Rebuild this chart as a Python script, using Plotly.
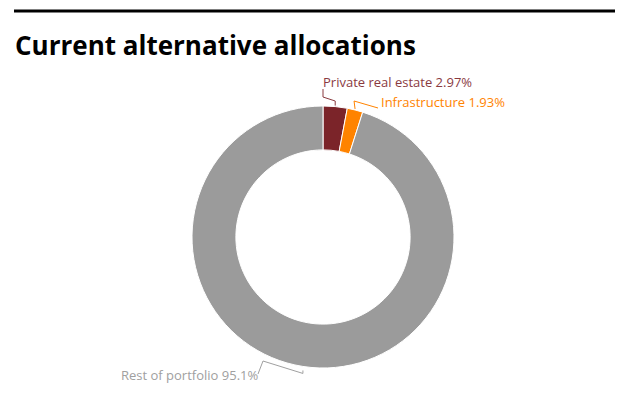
import math
import plotly.graph_objects as go

labels = ["Private real estate", "Infrastructure", "Rest of portfolio"]
values = [2.97, 1.93, 95.1]
value_text = ["2.97%", "1.93%", "95.1%"]
colors = ["#7B2429", "#FF8300", "#9B9B9B"]
text_colors = ["#8A3A3F", "#FF8300", "#A0A0A0"]

W, H = 635, 393
cx, cy, R = 323, 237, 131

def px(x):
    return x / W

def py(y):
    return 1 - y / H

fig = go.Figure()
fig.add_trace(go.Pie(
    labels=labels, values=values, sort=False, direction="clockwise",
    hole=0.665, textinfo="none", hoverinfo="label+percent",
    marker=dict(colors=colors, line=dict(color="white", width=1)),
    domain=dict(x=[px(cx - R), px(cx + R)], y=[py(cy + R), py(cy - R)]),
    showlegend=False,
))

total = sum(values)
cum = 0
anchors = []
for v in values:
    mid = (cum + v / 2) / total * 2 * math.pi
    cum += v
    anchors.append((cx + R * math.sin(mid), cy - R * math.cos(mid)))

label_pos = [(321, 82, "left"), (379, 102, "left"), (260, 375, "right")]

a0, a1, a2 = anchors
paths = [
    [(a0[0], a0[1] - 1), (a0[0], 101), (323, 97), (323, 89)],
    [(a1[0], a1[1] - 1), (a1[0] - 1, 101), (378, 108)],
    [(a2[0], a2[1] + 4), (a2[0], a2[1] + 7), (263, 361), (258, 374)],
]
for i, pts in enumerate(paths):
    d = "M " + " L ".join(f"{px(x)},{py(y)}" for x, y in pts)
    fig.add_shape(type="path", path=d, xref="paper", yref="paper",
                  line=dict(color=text_colors[i], width=1))

for i, (x, y, anchor) in enumerate(label_pos):
    fig.add_annotation(
        x=px(x), y=py(y), xref="paper", yref="paper",
        text=f"{labels[i]} {value_text[i]}", showarrow=False,
        xanchor=anchor, yanchor="middle",
        font=dict(family="Open Sans", size=13, color=text_colors[i]),
    )

fig.add_shape(type="line", xref="paper", yref="paper",
              x0=px(14), x1=px(615), y0=py(11), y1=py(11),
              line=dict(color="black", width=3))
fig.add_annotation(
    x=px(13), y=py(45), xref="paper", yref="paper",
    text="<b>Current alternative allocations</b>", showarrow=False,
    xanchor="left", yanchor="middle",
    font=dict(family="Open Sans", size=26, color="black"),
)

fig.update_layout(
    width=W, height=H, margin=dict(l=0, r=0, t=0, b=0),
    paper_bgcolor="white", plot_bgcolor="white",
)

fig.write_html("out.html", config={"displayModeBar": False},
               post_script="document.body.style.margin='0';document.body.style.overflow='hidden';")
